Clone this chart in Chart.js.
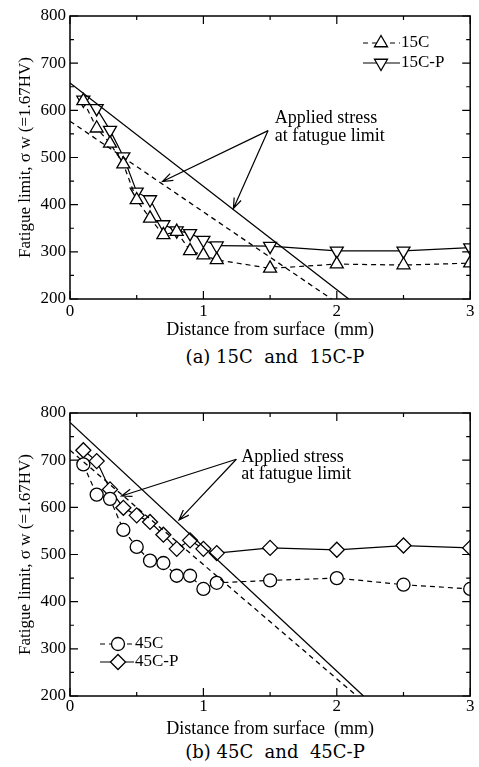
<!DOCTYPE html>
<html>
<head>
<meta charset="utf-8">
<script src="https://cdn.jsdelivr.net/npm/chart.js@4.4.1/dist/chart.umd.min.js"></script>
<style>
body{margin:0;background:#fff;width:479px;height:767px;position:relative;overflow:hidden}
canvas{position:absolute;left:0}
.cap{position:absolute;left:70px;width:410px;text-align:center;font-family:"DejaVu Serif";font-size:18px;line-height:22px;white-space:pre;color:#000}
</style>
</head>
<body>
<canvas id="chartA" width="479" height="341" style="top:0"></canvas>
<div class="cap" style="top:346px">(a) 15C  and  15C-P</div>
<canvas id="chartB" width="479" height="344" style="top:396px"></canvas>
<div class="cap" style="top:741px">(b) 45C  and  45C-P</div>
<script>
// depth from surface (mm)
const depths = [0.1, 0.2, 0.3, 0.4, 0.5, 0.6, 0.7, 0.8, 0.9, 1.0, 1.1, 1.5, 2.0, 2.5, 3.0];

// (a) fatigue limit, MPa
const fl15C  = [620, 562, 530, 486, 410, 371, 336, 343, 302, 293, 283, 265, 274, 272, 276];
const fl15CP = [622, 604, 558, 502, 427, 411, 358, 345, 339, 325, 313, 312, 302, 302, 309];
// applied stress lines (a): end points
const stressX15C  = [0, 1.96];
const stress15C   = [577, 200];
const stressX15CP = [0, 2.09];
const stress15CP  = [658, 200];

// (b)
const fl45C  = [691, 627, 618, 552, 516, 487, 482, 455, 455, 427, 440, 445, 450, 436, 427];
const fl45CP = [721, 698, 638, 599, 583, 569, 542, 512, 530, 512, 503, 514, 510, 519, 514];
const stressX45C  = [0, 2.15];
const stress45C   = [721, 200];
const stressX45CP = [0, 2.2];
const stress45CP  = [780, 200];

const xTicks = [0, 1, 2, 3];
const yTicks = [200, 300, 400, 500, 600, 700, 800];

const SERIF = "'Liberation Serif', 'Times New Roman', serif";

function pts(xs, ys) {
  return xs.map((x, i) => ({x: x, y: ys[i]}));
}

function drawMarker(ctx, style, x, y, r, rot) {
  ctx.beginPath();
  if (style === 'circle') {
    ctx.arc(x, y, r, 0, Math.PI * 2);
  } else if (style === 'triangle') {
    let a = (rot || 0) * Math.PI / 180;
    for (let k = 0; k < 3; k++) {
      const px = x + Math.sin(a) * r, py = y - Math.cos(a) * r;
      k ? ctx.lineTo(px, py) : ctx.moveTo(px, py);
      a += Math.PI * 2 / 3;
    }
    ctx.closePath();
  } else if (style === 'rectRot') {
    ctx.moveTo(x - r, y); ctx.lineTo(x, y - r); ctx.lineTo(x + r, y); ctx.lineTo(x, y + r);
    ctx.closePath();
  }
  ctx.fill();
  ctx.stroke();
}

// box frame with inward ticks on all four sides
const frameTicks = {
  id: 'frameTicks',
  afterDatasetsDraw(chart) {
    const {ctx, chartArea: a, scales: {x, y}} = chart;
    ctx.save();
    ctx.strokeStyle = '#000';
    ctx.lineWidth = 1.2;
    ctx.beginPath();
    for (let v = y.min; v <= y.max; v += 50) {
      const py = y.getPixelForValue(v);
      const len = v % 100 === 0 ? 8 : 4;
      ctx.moveTo(a.left, py); ctx.lineTo(a.left + len, py);
      ctx.moveTo(a.right, py); ctx.lineTo(a.right - len, py);
    }
    for (let v = x.min; v <= x.max; v += 0.5) {
      const px = x.getPixelForValue(v);
      const len = v % 1 === 0 ? 8 : 4;
      ctx.moveTo(px, a.bottom); ctx.lineTo(px, a.bottom - len);
      ctx.moveTo(px, a.top); ctx.lineTo(px, a.top + len);
    }
    ctx.stroke();
    ctx.lineWidth = 1.5;
    ctx.strokeRect(a.left, a.top, a.right - a.left, a.bottom - a.top);
    ctx.restore();
  }
};

// "Applied stress at fatugue limit" note with two arrows
const stressNote = {
  id: 'stressNote',
  afterDatasetsDraw(chart, args, opts) {
    const {ctx, scales: {x, y}} = chart;
    ctx.save();
    ctx.fillStyle = '#000';
    ctx.strokeStyle = '#000';
    ctx.lineWidth = 1.2;
    ctx.font = '18px ' + SERIF;
    ctx.textBaseline = 'middle';
    opts.lines.forEach((t, i) => {
      ctx.fillText(t, x.getPixelForValue(opts.textX), y.getPixelForValue(opts.textY[i]));
    });
    const sx = x.getPixelForValue(opts.from[0]), sy = y.getPixelForValue(opts.from[1]);
    opts.to.forEach(p => {
      const ex = x.getPixelForValue(p[0]), ey = y.getPixelForValue(p[1]);
      const ang = Math.atan2(ey - sy, ex - sx);
      ctx.beginPath();
      ctx.moveTo(sx, sy); ctx.lineTo(ex, ey);
      ctx.moveTo(ex - 11 * Math.cos(ang - 0.35), ey - 11 * Math.sin(ang - 0.35));
      ctx.lineTo(ex, ey);
      ctx.lineTo(ex - 11 * Math.cos(ang + 0.35), ey - 11 * Math.sin(ang + 0.35));
      ctx.stroke();
    });
    ctx.restore();
  }
};

// legend drawn inside the plot: line sample + marker + label
const insetLegend = {
  id: 'insetLegend',
  afterDatasetsDraw(chart, args, opts) {
    const ctx = chart.ctx;
    ctx.save();
    ctx.font = '17px ' + SERIF;
    ctx.textBaseline = 'middle';
    ctx.fillStyle = '#000';
    let row = 0;
    chart.data.datasets.forEach(ds => {
      if (!ds.legendLabel) return;
      const yy = opts.rows[row++];
      ctx.strokeStyle = '#000';
      ctx.lineWidth = ds.borderWidth;
      ctx.setLineDash(ds.borderDash || []);
      ctx.beginPath();
      ctx.moveTo(opts.x0, yy); ctx.lineTo(opts.x1, yy);
      ctx.stroke();
      ctx.setLineDash([]);
      ctx.fillStyle = '#fff';
      ctx.lineWidth = ds.pointBorderWidth;
      drawMarker(ctx, ds.pointStyle, opts.mx, yy, ds.pointRadius, ds.pointRotation);
      ctx.fillStyle = '#000';
      ctx.fillText(ds.legendLabel, opts.tx, yy);
    });
    ctx.restore();
  }
};

function seriesSet(label, xs, ys, style, rot, radius, dashed) {
  return {
    legendLabel: label,
    data: pts(xs, ys),
    borderColor: '#000',
    borderWidth: 1.2,
    borderDash: dashed ? [5, 4] : [],
    pointStyle: style,
    pointRotation: rot,
    pointRadius: radius,
    pointBackgroundColor: '#fff',
    pointBorderColor: '#000',
    pointBorderWidth: 1.3,
    tension: 0
  };
}

function stressSet(xs, ys, dashed) {
  return {
    data: pts(xs, ys),
    borderColor: '#000',
    borderWidth: 1.3,
    borderDash: dashed ? [5, 4] : [],
    pointRadius: 0,
    tension: 0
  };
}

function makeOptions(padTop, xHeight, xPad, note, legend) {
  return {
    responsive: false,
    animation: false,
    layout: {padding: {top: padTop, right: 5, left: 0, bottom: 0}},
    plugins: {
      legend: {display: false},
      tooltip: {enabled: false},
      stressNote: note,
      insetLegend: legend
    },
    scales: {
      x: {
        type: 'linear', min: 0, max: 3,
        grid: {display: false, drawTicks: false},
        border: {display: false},
        afterBuildTicks: s => { s.ticks = xTicks.map(v => ({value: v})); },
        ticks: {padding: xPad, color: '#000', font: {family: SERIF, size: 17}, maxRotation: 0, autoSkip: false},
        title: {display: true, text: 'Distance from surface  (mm)', color: '#000',
                font: {family: SERIF, size: 18}, padding: {top: 0, bottom: 0}},
        afterFit: s => { s.height = xHeight; s.paddingLeft = 0; s.paddingRight = 0; }
      },
      y: {
        min: 200, max: 800,
        grid: {display: false, drawTicks: false},
        border: {display: false},
        afterBuildTicks: s => { s.ticks = yTicks.map(v => ({value: v})); },
        ticks: {padding: 4, color: '#000', font: {family: SERIF, size: 17}},
        title: {display: true, text: 'Fatigue limit, σ w (=1.67HV)', color: '#000',
                font: {family: SERIF, size: 17}, padding: {top: 15, bottom: 0}},
        afterFit: s => { s.width = 70; s.paddingTop = 0; s.paddingBottom = 0; }
      }
    }
  };
}

new Chart(document.getElementById('chartA').getContext('2d'), {
  type: 'line',
  data: {
    datasets: [
      stressSet(stressX15C, stress15C, true),
      stressSet(stressX15CP, stress15CP, false),
      seriesSet('15C', depths, fl15C, 'triangle', 0, 7.5, true),
      seriesSet('15C-P', depths, fl15CP, 'triangle', 180, 7.5, false)
    ]
  },
  options: makeOptions(16, 42, 2.5,
    {lines: ['Applied stress', 'at fatugue limit'], textX: 1.535, textY: [583, 544],
     from: [1.485, 557], to: [[0.693, 449], [1.225, 392]]},
    {x0: 363, x1: 400, mx: 381, tx: 401, rows: [43, 63]}),
  plugins: [frameTicks, stressNote, insetLegend]
});

new Chart(document.getElementById('chartB').getContext('2d'), {
  type: 'line',
  data: {
    datasets: [
      stressSet(stressX45C, stress45C, true),
      stressSet(stressX45CP, stress45CP, false),
      seriesSet('45C', depths, fl45C, 'circle', 0, 6.5, true),
      seriesSet('45C-P', depths, fl45CP, 'rectRot', 0, 7.5, false)
    ]
  },
  options: makeOptions(17, 44, 0,
    {lines: ['Applied stress', 'at fatugue limit'], textX: 1.284, textY: [707, 671],
     from: [1.247, 702], to: [[0.386, 624], [0.817, 573]]},
    {x0: 100, x1: 134, mx: 118, tx: 135, rows: [248, 266]}),
  plugins: [frameTicks, stressNote, insetLegend]
});
</script>
</body>
</html>
